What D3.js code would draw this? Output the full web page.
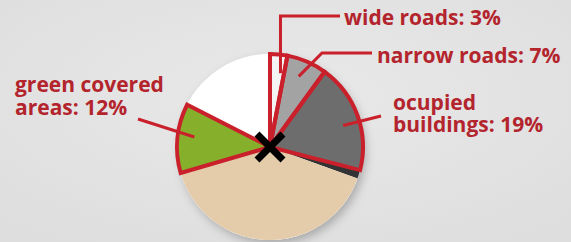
<!DOCTYPE html>
<html>
<head>
<meta charset="utf-8">
<script src="https://cdn.jsdelivr.net/npm/d3@7"></script>
<style>
  body { margin: 0; background: #e4e4e4; }
  svg { display: block; }
</style>
</head>
<body>
<div id="chart"></div>
<script>
// slice data, clockwise from 12 o'clock
var categories = ["wide roads", "narrow roads", "ocupied buildings", "other", "unused", "green covered areas", "open"];
var values = [3, 7, 19, 1.5, 40, 12, 17.5];
var fills = ["#f4f4f4", "#a3a3a3", "#6d6d6d", "#333333", "#e4cbaa", "#86b02b", "#ffffff"];
var highlighted = [true, true, true, false, false, true, false];
var labelLines = [
  ["wide roads: 3%"],
  ["narrow roads: 7%"],
  ["ocupied", "buildings: 19%"],
  null, null,
  ["green covered", "areas: 12%"],
  null
];

var width = 571, height = 242;
var cx = 270, cy = 147, r = 93;
var red = "#c9202b", textRed = "#b3242d";

var svg = d3.select("#chart")
  .append("svg")
    .attr("width", width)
    .attr("height", height);

var defs = svg.append("defs");
var bg = defs.append("radialGradient").attr("id", "bg").attr("cx", "50%").attr("cy", "40%").attr("r", "70%");
bg.append("stop").attr("offset", "0%").attr("stop-color", "#e9e9e9");
bg.append("stop").attr("offset", "100%").attr("stop-color", "#dedede");
svg.append("rect").attr("width", width).attr("height", height).attr("fill", "url(#bg)");

var shadow = defs.append("filter").attr("id", "shadow")
  .attr("x", "-20%").attr("y", "-20%").attr("width", "140%").attr("height", "140%");
shadow.append("feDropShadow")
  .attr("dx", 3).attr("dy", 4).attr("stdDeviation", 5)
  .attr("flood-color", "#000").attr("flood-opacity", 0.25);

var pie = d3.pie().sort(null).value(d => d)(values);
var arc = d3.arc().innerRadius(0).outerRadius(r);

var g = svg.append("g").attr("transform", "translate(" + cx + "," + cy + ")");

// base disc with shadow
g.append("circle").attr("r", r).attr("fill", "#fff").attr("filter", "url(#shadow)");

g.selectAll("path.slice")
  .data(pie)
  .join("path")
    .attr("class", "slice")
    .attr("d", arc)
    .attr("fill", (d, i) => fills[i]);

// red outlines for the highlighted slices
g.selectAll("path.outline")
  .data(pie.filter((d, i) => highlighted[i]))
  .join("path")
    .attr("class", "outline")
    .attr("d", arc)
    .attr("fill", "none")
    .attr("stroke", red)
    .attr("stroke-width", 4)
    .attr("stroke-linejoin", "miter");

// centre cross
var xs = 13;
g.append("path")
  .attr("d", "M" + (-xs) + "," + (-xs) + "L" + xs + "," + xs + "M" + xs + "," + (-xs) + "L" + (-xs) + "," + xs)
  .attr("stroke", "#000")
  .attr("stroke-width", 7);

function polar(a, rr) {
  return [cx + Math.sin(a) * rr, cy - Math.cos(a) * rr];
}

// leader lines: slice, angle fraction in slice, radius fraction, elbow, end
var leaders = [
  {i: 0, t: 0.75, rf: 0.8, elbow: null, up: 16, end: 340},
  {i: 1, t: 0.45, rf: 0.82, elbow: [322, 53], end: 372},
  {i: 2, t: 0.55, rf: 0.82, elbow: null, end: [381, 116]},
  {i: 5, t: 0.55, rf: 0.82, elbow: null, end: [138, 119]}
];

leaders.forEach(function(l) {
  var d = pie[l.i];
  var a = d.startAngle + (d.endAngle - d.startAngle) * l.t;
  var p = polar(a, r * l.rf);
  var pts = [p];
  if (l.up) { pts.push([p[0], l.up]); pts.push([l.end, l.up]); }
  else if (l.elbow) { pts.push(l.elbow); pts.push([l.end, l.elbow[1]]); }
  else pts.push(l.end);
  svg.append("path")
    .attr("d", d3.line()(pts))
    .attr("fill", "none")
    .attr("stroke", red)
    .attr("stroke-width", 3);
});

// labels: x, first baseline, line gap
var labelPos = {0: [344, 25, 0], 1: [377, 63, 0], 2: [393, 110, 22], 5: [15, 92, 23]};
Object.keys(labelPos).forEach(function(k) {
  var p = labelPos[k];
  var t = svg.append("text")
    .attr("x", p[0])
    .attr("y", p[1])
    .attr("fill", textRed)
    .attr("font-family", "Open Sans")
    .attr("font-weight", 700)
    .attr("font-size", 21);
  labelLines[k].forEach(function(line, j) {
    t.append("tspan").attr("x", p[0]).attr("dy", j === 0 ? 0 : p[2]).text(line);
  });
});
</script>
</body>
</html>
